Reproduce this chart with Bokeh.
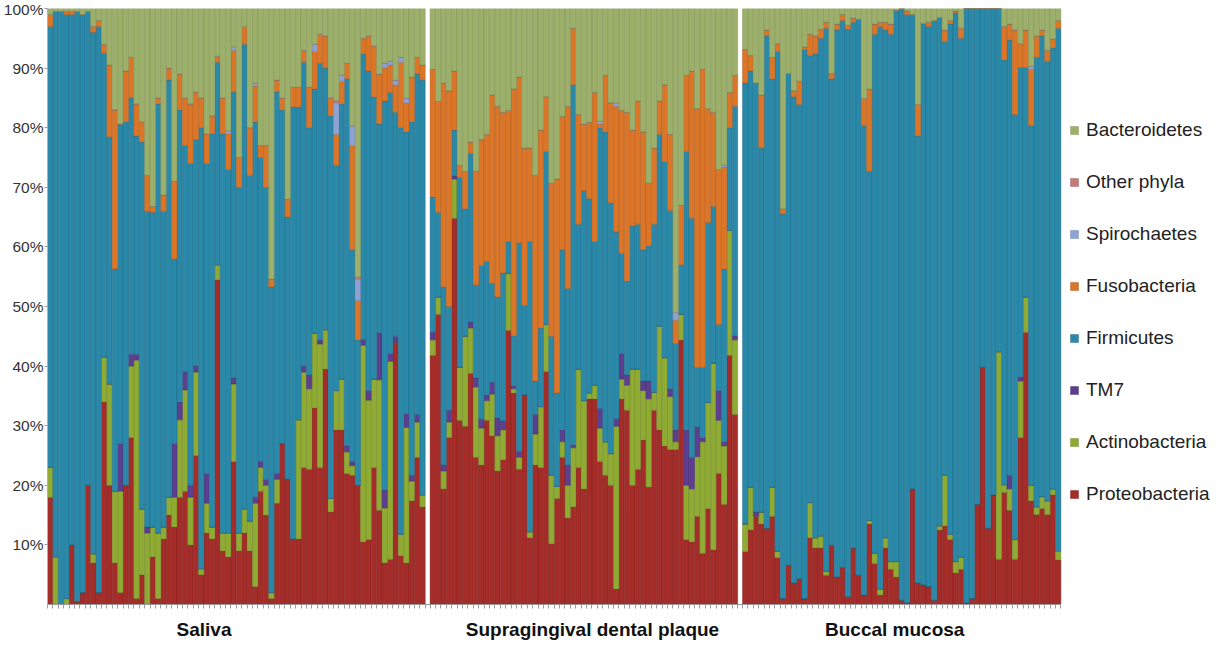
from bokeh.plotting import figure
from bokeh.models import ColumnDataSource, Range1d, FixedTicker, Legend, LegendItem
from bokeh.embed import file_html
from bokeh.resources import INLINE

# ---------------- data (percent of reads per sample) ----------------
groups = ["Saliva", "Supragingival dental plaque", "Buccal mucosa"]
y_ticks = [10, 20, 30, 40, 50, 60, 70, 80, 90, 100]

saliva_proteo = [18, 0, 0, 0, 10, 0.5, 2, 20, 7, 2,
                 34, 20, 7, 2, 20, 28, 1, 5, 0, 8,
                 1, 11, 15, 13, 18, 19, 10, 25, 5, 12,
                 11, 54.5, 9, 8, 24, 9, 12, 9, 3, 19,
                 15, 1, 17, 27, 21, 11, 11, 23, 22.7, 33,
                 23, 39.5, 15.5, 29.3, 29.3, 22, 21.7, 20, 10.5, 10.9,
                 23, 15.8, 7, 7.6, 44, 8.2, 7, 17.4, 24.7, 16.4]
saliva_actino = [5, 8, 0, 1, 0, 0, 0, 0, 1.5, 0,
                 7.5, 17, 12, 17, 0, 12, 40, 11, 12, 5,
                 11, 2, 3, 5, 13, 17, 8, 14, 1, 5,
                 2, 2.5, 3, 4, 13, 3, 4, 5, 14, 4,
                 5, 1, 4, 0, 0, 0, 20, 16, 13.5, 12.5,
                 20.7, 6.6, 2.3, 6.6, 8.5, 3.6, 1.6, 0, 33, 23.4,
                 14.8, 21.9, 9.2, 33.2, 0, 3.6, 22.7, 3.3, 5.9, 2]
saliva_tm7 = [0, 0, 0, 0, 0, 0, 0, 0, 0, 0,
              0, 0, 0, 8, 0, 2, 1, 0, 1, 0,
              0, 0, 0, 9, 3, 3, 2, 1, 0, 5,
              0, 0, 0, 0, 1, 0, 0, 0, 1, 1,
              1, 0, 1, 0, 0, 0, 0, 1, 2.3, 0,
              0.7, 0, 0, 0, 0, 1, 0.7, 0, 1, 1.6,
              0, 7.9, 3, 1.3, 1, 0, 2.3, 1, 1.3, 0]
saliva_firm = [74, 91.5, 99.5, 98, 89, 99, 97, 79.5, 87.5, 95,
               51, 41.5, 37.3, 53.6, 61, 43, 36.6, 61.6, 53, 52.8,
               72, 53, 70, 31, 49, 38, 54, 38, 74, 52,
               66, 34, 67, 61, 48, 58, 78, 58, 63, 51,
               49, 51.3, 64, 56, 44, 72.5, 52.5, 51, 41.5, 41,
               46.4, 43.9, 64.2, 37.8, 46.2, 61.6, 35.5, 24.4, 47.9, 53.6,
               47.4, 35, 65.3, 43.8, 37.6, 68.2, 47.3, 59.3, 57.1, 69.6]
saliva_fuso = [2, 0, 0, 0.5, 0.5, 0, 0, 0, 1, 1,
               1.5, 12, 26.7, 0, 8.5, 6.8, 5.4, 3.4, 6, 1,
               1, 2.7, 2, 13, 6, 8, 10, 8, 5, 5,
               3, 1, 6, 6, 7, 5, 3, 8, 6, 2,
               7, 1.3, 2, 2, 3, 3.3, 3.3, 2, 6.8, 6.3,
               4.9, 5.4, 3, 5.2, 3.8, 2.6, 17.5, 6.6, 2.6, 5.9,
               8.5, 8.4, 5.5, 4.6, 4.6, 11, 4.9, 7.5, 2.8, 2.5]
saliva_spiro = [0, 0, 0, 0, 0, 0, 0, 0, 0, 0,
                0, 0, 0, 0, 0, 0, 0, 0, 0, 0,
                0, 0, 0, 0, 0, 0, 0, 0, 0, 0,
                0, 0, 0, 0.5, 0.6, 0, 0, 0, 0.5, 0,
                0, 0, 0, 0, 0, 0, 0, 0, 0, 1.2,
                0, 0, 0, 5.3, 1, 0, 3.3, 3.6, 0, 0,
                0, 0, 0.8, 0.7, 0.8, 0.8, 0.8, 0, 0, 0]
saliva_other = [0, 0, 0, 0, 0, 0, 0, 0, 0, 0,
                0, 0, 0, 0, 0, 0, 0, 0, 0, 0,
                0, 0, 0, 0, 0, 0, 0, 0, 0, 0,
                0, 0, 0, 0, 0, 0, 0, 0, 0, 0,
                0, 0, 0, 0, 0, 0, 0, 0, 0, 0,
                0, 0, 0, 0.4, 0, 0, 0, 0.4, 0, 0,
                0, 0, 0, 0, 0, 0, 0, 0, 0, 0]
saliva_bact = [1, 0.5, 0.5, 0.5, 0.5, 0.5, 1, 0.5, 3, 2,
               6, 9.5, 17, 19.4, 10.5, 8.2, 16, 19, 28, 33.2,
               15, 31.3, 10, 29, 11, 15, 16, 14, 15, 21,
               18, 8, 15, 20.5, 6.4, 25, 3, 20, 12.5, 23,
               23, 45.4, 12, 15, 32, 13.2, 13.2, 7, 13.2, 6,
               4.3, 4.6, 15, 15.4, 11.2, 9.2, 19.7, 45, 5, 4.6,
               6.3, 11, 9.2, 8.8, 12, 8.2, 15, 11.5, 8.2, 9.5]

plaque_proteo = [41.8, 48.7, 19.4, 28, 64.8, 30.9, 29.9, 38.8, 24.7, 23.4,
                 30.9, 28.3, 22.4, 24.3, 46, 35.5, 22.7, 35.2, 11.2, 23.4,
                 23, 39.1, 10.2, 17.8, 24.7, 14.5, 16.4, 23, 19.4, 34.5,
                 34.5, 24, 21.7, 20, 2.6, 34.5, 32.6, 20, 22.7, 27.6,
                 19.7, 32.6, 29.3, 26.6, 26, 26, 44.4, 10.9, 10.5, 14.8,
                 8.6, 16.1, 9.2, 22, 16.8, 41.8, 31.9]
plaque_actino = [2.6, 2.9, 3, 2.6, 6.6, 8.9, 15.1, 7.6, 11.8, 6.2,
                 3.3, 7, 5.9, 5, 9.6, 0.7, 2, 0, 1, 5.2,
                 10.2, 7.9, 11.5, 2, 2.6, 5.5, 9.9, 16.5, 14.8, 1,
                 2.3, 5.6, 5.6, 5.3, 27.3, 3.3, 4.2, 19.5, 16.8, 8.3,
                 14.8, 3, 17.4, 14.8, 8.9, 1.3, 4.3, 9.1, 8.9, 10,
                 18.7, 17.8, 31.3, 8.9, 9.8, 21, 12.5]
plaque_tm7 = [1.3, 0, 1, 2, 0.5, 0, 0, 1, 1.5, 1.5,
              1, 2, 3, 1.5, 0, 0.5, 1, 0, 0, 3.3,
              0, 0, 0, 0, 2, 3.4, 0.5, 0, 0, 0,
              0, 3.3, 0, 0, 1.3, 4.3, 1.7, 0, 0, 1.6,
              3, 0, 0, 0, 1.3, 2, 0, 9.3, 5.3, 5,
              0.7, 0, 0, 5, 0.7, 0, 0.7]
plaque_firm = [22.7, 14.2, 29.9, 17.4, 7.7, 31.9, 21.4, 28.3, 15.6, 25.8,
               22.4, 16.6, 20.3, 24.8, 5.3, 8.4, 35, 15, 48.7, 5.6,
               13.2, 29, 23.3, 15.7, 30.2, 29.6, 60.4, 24.3, 35.2, 32.6,
               24.1, 47.1, 52, 42.1, 31.3, 16.8, 15.8, 24, 24.3, 22,
               22.7, 28.2, 32.2, 32.9, 29.9, 14.5, 8.3, 46.7, 40.1, 10,
               11.8, 30.2, 26.3, 11.1, 29, 17.2, 38.5]
plaque_fuso = [21.4, 18.6, 34.2, 36.2, 9.9, 2, 6.3, 1.9, 19.1, 21.1,
               21.3, 31.6, 32, 27, 22, 41.4, 27.8, 26.4, 15.7, 34.5,
               33.2, 9.2, 25.7, 35.9, 22.4, 30.6, 9.5, 18.4, 11.2, 12.8,
               25, 0.6, 9.5, 16.8, 21.1, 24, 28.3, 16.1, 20.7, 19.8,
               10.5, 12.8, 5.6, 12.9, 12.8, 3.9, 10, 12.8, 24.7, 43.4,
               50, 19.1, 15.8, 26, 17.1, 5.9, 5.2]
plaque_spiro = [0, 0, 0, 0, 0, 0, 0, 0, 0, 0,
                0, 0, 0, 0, 0, 0, 0, 0, 0, 0,
                0, 0, 0, 0, 0, 0, 0, 0, 0, 0,
                0, 0.5, 0, 0, 0.5, 0, 0, 0, 0, 0,
                0, 0, 0, 0, 0, 1.3, 0, 0, 0, 0,
                0, 0, 0, 0, 0.4, 0, 0]
plaque_other = [0, 0, 0, 0, 0, 0, 0, 0, 0, 0,
                0, 0, 0, 0, 0, 0, 0, 0, 0, 0,
                0, 0, 0, 0, 0, 0, 0, 0, 0, 0,
                0, 0, 0, 0, 0, 0, 0, 0, 0, 0,
                0, 0, 0, 0, 0, 0, 0, 0, 0, 0,
                0, 0, 0, 0, 0, 0, 0]
plaque_bact = [10.2, 15.6, 12.5, 13.8, 10.5, 26.3, 27.3, 22.4, 27.3, 22,
               21.1, 14.5, 16.4, 17.4, 17.1, 13.5, 11.5, 23.4, 23.4, 28,
               20.4, 14.8, 29.3, 28.6, 18.1, 16.4, 3.3, 17.8, 19.4, 19.1,
               14.1, 18.9, 11.2, 15.8, 15.9, 17.1, 17.4, 20.4, 15.5, 20.7,
               29.3, 23.4, 15.5, 12.8, 21.1, 51, 33, 11.2, 10.5, 16.8,
               10.2, 16.8, 17.4, 27, 26.2, 14.1, 11.2]

buccal_proteo = [8.9, 12.5, 14.8, 13.5, 12.8, 14.8, 7.9, 1, 6.6, 3.6,
                 4.3, 1, 11.2, 9.5, 9.5, 4.9, 9.9, 4.6, 6.2, 1.3,
                 9.5, 4.9, 1.6, 13.5, 6.9, 1.6, 9.5, 5.9, 4.6, 0.7,
                 0.3, 19.4, 3.6, 3.3, 3, 0.7, 12.5, 13.2, 10.9, 5.3,
                 5.9, 0.3, 1, 16.8, 39.8, 12.8, 18.4, 7.6, 18.8, 15.8,
                 7.6, 28, 45.7, 17.4, 15.1, 16.1, 15.1, 18.4, 7.5]
buccal_actino = [4.6, 7.2, 0, 2, 0, 4.9, 1, 0, 0, 0,
                 0, 0, 5.9, 1.7, 2, 0.7, 0, 0, 0, 0,
                 0, 0, 0, 0.6, 1.7, 1, 1.7, 1.3, 2.6, 0,
                 0, 0, 0, 0, 0, 0, 0.7, 8.5, 0.9, 1.9,
                 2, 0, 0, 0, 0, 0, 0, 34.8, 1.3, 3.6,
                 3.3, 9.5, 5.9, 2.6, 1.3, 2, 2.3, 1, 1.5]
buccal_tm7 = [0, 0, 0.7, 0, 0, 0, 0, 0, 0, 0,
              0, 0, 0, 0, 0, 0, 0, 0, 0, 0,
              0, 0, 0, 0, 0, 0, 0, 0, 0, 0,
              0, 0, 0, 0, 0, 0, 0, 0, 0, 0,
              0, 0, 0, 0, 0, 0, 0, 0, 0, 2.3,
              0, 0.7, 0, 0, 0, 0, 0, 0, 0]
buccal_firm = [74, 69.8, 72, 61.1, 82.6, 68.5, 83.9, 64.5, 82.5, 81.6,
               79.6, 92.1, 75, 81.2, 83.5, 91.1, 78.3, 91.8, 91.8, 95.2,
               88.2, 93.3, 78.7, 58.6, 87.1, 94.4, 85.2, 88.5, 92.5, 99.2,
               98.7, 79.6, 75, 94.2, 94, 97.3, 85.3, 72.7, 85.6, 92.1,
               87.1, 99.7, 99, 83.2, 60.2, 87.2, 81.6, 57.6, 71.3, 73,
               71.3, 51.9, 38.5, 60.3, 75.4, 77.3, 73.7, 74, 87.7]
buccal_fuso = [5.6, 2.6, 0, 8.9, 1, 3.6, 1.3, 0.9, 0, 1,
               3.9, 0.5, 3.6, 3, 1.5, 1, 0.9, 1, 1, 0.7,
               0.7, 0, 4.6, 13.8, 1.7, 0.7, 1.3, 1.7, 0, 0,
               0.6, 0, 5.3, 0, 0.7, 0, 0, 2, 0.6, 0.3,
               1.7, 0, 0, 0, 0, 0, 0, 0, 5.6, 2.7,
               14.2, 4, 6.3, 9.5, 3.6, 1, 1.9, 1.5, 1.3]
buccal_spiro = [0, 0, 0, 0, 0, 0, 0, 0, 0, 0,
                0, 0, 0, 0, 0, 0, 0, 0, 0, 0,
                0, 0, 0, 0, 0, 0, 0, 0, 0, 0,
                0, 0, 0, 0, 0, 0, 0, 0, 0, 0,
                0, 0, 0, 0, 0, 0, 0, 0, 0, 0,
                0, 0, 0, 0.5, 0, 0, 0, 0, 0]
buccal_other = [0, 0, 0, 0, 0, 0, 0, 0, 0, 0,
                0, 0, 0, 0, 0, 0, 0, 0, 0, 0,
                0, 0, 0, 0, 0, 0, 0, 0, 0, 0,
                0, 0, 0, 0, 0, 0, 0, 0, 0, 0,
                0, 0, 0, 0, 0, 0, 0, 0, 0, 0,
                0, 0, 0, 0, 0, 0, 0, 0, 0]
buccal_bact = [6.9, 7.9, 12.5, 14.5, 3.6, 8.2, 5.9, 33.6, 10.9, 13.8,
               12.2, 6.4, 4.3, 4.6, 3.5, 2.3, 10.9, 2.6, 1, 2.8,
               1.6, 1.8, 15.1, 13.5, 2.6, 2.3, 2.3, 2.6, 0.3, 0.1,
               0.4, 1, 16.1, 2.5, 2.3, 2, 1.5, 3.6, 2, 0.4,
               3.3, 0, 0, 0, 0, 0, 0, 0, 3, 2.6,
               3.6, 5.9, 3.6, 9.7, 4.6, 3.6, 7, 5.1, 2]

# ---------------- assemble ----------------
keys = ["proteo", "actino", "tm7", "firm", "fuso", "spiro", "other", "bact"]
names = {"proteo": "Proteobacteria", "actino": "Actinobacteria", "tm7": "TM7",
         "firm": "Firmicutes", "fuso": "Fusobacteria", "spiro": "Spirochaetes",
         "other": "Other phyla", "bact": "Bacteroidetes"}
fill = {"proteo": "#a52d29", "actino": "#8fab34", "tm7": "#5d3f8f",
        "firm": "#2a88a9", "fuso": "#db7629", "spiro": "#8ea2d4",
        "other": "#c27b78", "bact": "#9db06b"}
edge = {"proteo": "#7a1c1a", "actino": "#6a8225", "tm7": "#3f2a66",
        "firm": "#1c6580", "fuso": "#a9561b", "spiro": "#6a7fae",
        "other": "#955a58", "bact": "#7b8d52"}

panels = [
    {"proteo": saliva_proteo, "actino": saliva_actino, "tm7": saliva_tm7, "firm": saliva_firm,
     "fuso": saliva_fuso, "spiro": saliva_spiro, "other": saliva_other, "bact": saliva_bact},
    {"proteo": plaque_proteo, "actino": plaque_actino, "tm7": plaque_tm7, "firm": plaque_firm,
     "fuso": plaque_fuso, "spiro": plaque_spiro, "other": plaque_other, "bact": plaque_bact},
    {"proteo": buccal_proteo, "actino": buccal_actino, "tm7": buccal_tm7, "firm": buccal_firm,
     "fuso": buccal_fuso, "spiro": buccal_spiro, "other": buccal_other, "bact": buccal_bact},
]

GAP = 0.9
data = {k: [] for k in keys}
data["x"] = []
edges = []
offset = 0.0
for pan in panels:
    n = len(pan["proteo"])
    data["x"] += [offset + i + 0.5 for i in range(n)]
    edges += [offset + i for i in range(n + 1)]
    for k in keys:
        data[k] += pan[k]
    offset += n + GAP
x_end = offset - GAP

source = ColumnDataSource(data)

# layout: bars occupy 1016 px of a 1169 px frame; legend sits in the free space on the right
W, LEFT, RIGHT = 1215, 44, 2
frame_w = W - LEFT - RIGHT
bars_w = 1016
x_max = x_end * frame_w / bars_w

p = figure(width=W, height=642, output_backend="svg", toolbar_location=None,
           x_range=Range1d(0, x_max), y_range=Range1d(0, 100),
           min_border_left=LEFT, min_border_right=RIGHT, min_border_top=8, min_border_bottom=35)
p.outline_line_color = None
p.xgrid.grid_line_color = None
p.ygrid.grid_line_color = None

renderers = p.vbar_stack(keys, x="x", width=1.0, source=source,
                         color=[fill[k] for k in keys],
                         line_color=[edge[k] for k in keys],
                         line_width=0.6, line_alpha=0.7)
rmap = dict(zip(keys, renderers))

# x axis: minor ticks at every sample, group names as labels
label_pos = [29, 101, 157]
p.xaxis.bounds = (0, x_end)
p.xaxis.ticker = FixedTicker(ticks=label_pos, minor_ticks=edges)
p.xaxis.major_label_overrides = {t: g for t, g in zip(label_pos, groups)}
p.xaxis.major_tick_line_color = None
p.xaxis.major_tick_out = 0
p.xaxis.minor_tick_out = 4
p.xaxis.minor_tick_in = 0
p.xaxis.minor_tick_line_color = "#9a9a9a"
p.xaxis.axis_line_color = "#9a9a9a"
p.xaxis.major_label_text_font = "Liberation Sans"
p.xaxis.major_label_text_font_style = "bold"
p.xaxis.major_label_text_font_size = "19px"
p.xaxis.major_label_text_color = "#111111"
p.xaxis.major_label_standoff = 10

p.yaxis.ticker = FixedTicker(ticks=y_ticks)
p.yaxis.major_label_overrides = {t: f"{t}%" for t in y_ticks}
p.yaxis.axis_line_color = "#b0b0b0"
p.yaxis.major_tick_line_color = "#9a9a9a"
p.yaxis.major_tick_out = 3
p.yaxis.major_tick_in = 0
p.yaxis.minor_tick_line_color = None
p.yaxis.major_label_text_font = "Liberation Sans"
p.yaxis.major_label_text_font_size = "15.5px"
p.yaxis.major_label_text_color = "#333333"
p.yaxis.major_label_standoff = 1

legend_order = ["bact", "other", "spiro", "fuso", "firm", "tm7", "actino", "proteo"]
legend = Legend(items=[LegendItem(label=names[k], renderers=[rmap[k]]) for k in legend_order],
                location=(bars_w + 6, 99), border_line_color=None, background_fill_alpha=0,
                label_text_font="Liberation Sans", label_text_font_size="19px",
                label_text_color="#222222", glyph_width=10, glyph_height=10,
                label_height=20, spacing=30, margin=0, padding=5, label_standoff=7)
p.add_layout(legend)

open("out.html", "w").write(file_html(p, INLINE))
